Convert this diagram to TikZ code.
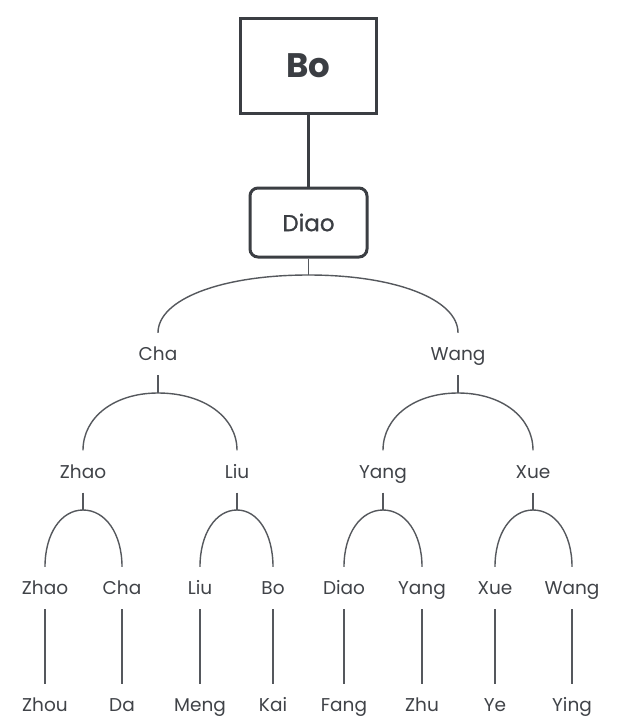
\documentclass[tikz,border=0pt]{standalone}
\usepackage{fontspec}
\setmainfont{Poppins}
\newfontfamily\medfont[FakeBold=0.9]{Poppins}
\usetikzlibrary{calc}
\begin{document}
\begin{tikzpicture}[x=1pt,y=-1pt,
  lbl/.style={font=\fontsize{18.5}{22}\selectfont, text=txtc, inner sep=0pt, minimum height=42pt, text height=13pt, text depth=0pt},
  thin link/.style={draw=linec, line width=1.4pt},
  thick link/.style={draw=boxc, line width=3.5pt},
  topbox/.style={draw=boxc, line width=3.5pt, minimum width=136pt, minimum height=95pt, inner sep=0pt, text=boxc, font=\fontsize{34}{38}\selectfont\bfseries},
  midbox/.style={draw=boxc, line width=3pt, rounded corners=8pt, minimum width=117pt, minimum height=69pt, inner sep=0pt, text=boxc, font=\medfont\fontsize{23}{28}\selectfont}]
\definecolor{txtc}{HTML}{404348}
\definecolor{linec}{HTML}{55585D}
\definecolor{boxc}{HTML}{3B3E43}
\useasboundingbox (0,0) rectangle (620,728);
\fill[white] (0,0) rectangle (620,728);
% arc macro: left child node, right child node, top coordinate
\newcommand\famarc[3]{%
  \draw[thin link] (#1.north) .. controls ($(#1.north)!0.58!(#1.north |- #3)$) and ($(#3)!0.58!(#1.north |- #3)$) .. (#3)
     .. controls ($(#3)!0.58!(#2.north |- #3)$) and ($(#2.north)!0.58!(#2.north |- #3)$) .. (#2.north);}
\node[topbox] (bo) at (308.5,66) {Bo};
\node[midbox] (diao) at (308.5,222.5) {Diao};
\draw[thick link] (bo.south) -- (diao.north);
% level 1
\node[lbl] (cha) at (158,354) {Cha};
\node[lbl] (wang) at (458,354) {Wang};
\coordinate (t0) at (308.5,275);
\draw[thin link] (diao.south) -- (t0);
% level 2
\node[lbl] (zhao) at (83,471.5) {Zhao};
\node[lbl] (liu) at (237,471.5) {Liu};
\node[lbl] (yang) at (383,471.5) {Yang};
\node[lbl] (xue) at (533,471.5) {Xue};
% level 3
\node[lbl] (zhaoB) at (45,588) {Zhao};
\node[lbl] (chaB) at (122,588) {Cha};
\node[lbl] (liuB) at (200,588) {Liu};
\node[lbl] (boB) at (273,588) {Bo};
\node[lbl] (diaoB) at (344,588) {Diao};
\node[lbl] (yangB) at (422,588) {Yang};
\node[lbl] (xueB) at (495,588) {Xue};
\node[lbl] (wangB) at (572,588) {Wang};
% level 4
\node[lbl] (zhou) at (45,705) {Zhou};
\node[lbl] (da) at (122,705) {Da};
\node[lbl] (meng) at (200,705) {Meng};
\node[lbl] (kai) at (273,705) {Kai};
\node[lbl] (fang) at (344,705) {Fang};
\node[lbl] (zhu) at (422,705) {Zhu};
\node[lbl] (ye) at (495,705) {Ye};
\node[lbl] (ying) at (572,705) {Ying};
% arcs
\famarc{cha}{wang}{t0}
\coordinate (t1) at (158,393);
\coordinate (t2) at (458,393);
\draw[thin link] (cha.south) -- (t1);
\draw[thin link] (wang.south) -- (t2);
\famarc{zhao}{liu}{t1}
\famarc{yang}{xue}{t2}
\coordinate (t3) at (83,510);
\coordinate (t4) at (237,510);
\coordinate (t5) at (383,510);
\coordinate (t6) at (533,510);
\draw[thin link] (zhao.south) -- (t3);
\draw[thin link] (liu.south) -- (t4);
\draw[thin link] (yang.south) -- (t5);
\draw[thin link] (xue.south) -- (t6);
\famarc{zhaoB}{chaB}{t3}
\famarc{liuB}{boB}{t4}
\famarc{diaoB}{yangB}{t5}
\famarc{xueB}{wangB}{t6}
\draw[thin link] (zhaoB.south) -- (zhou.north);
\draw[thin link] (chaB.south) -- (da.north);
\draw[thin link] (liuB.south) -- (meng.north);
\draw[thin link] (boB.south) -- (kai.north);
\draw[thin link] (diaoB.south) -- (fang.north);
\draw[thin link] (yangB.south) -- (zhu.north);
\draw[thin link] (xueB.south) -- (ye.north);
\draw[thin link] (wangB.south) -- (ying.north);
\end{tikzpicture}
\end{document}
